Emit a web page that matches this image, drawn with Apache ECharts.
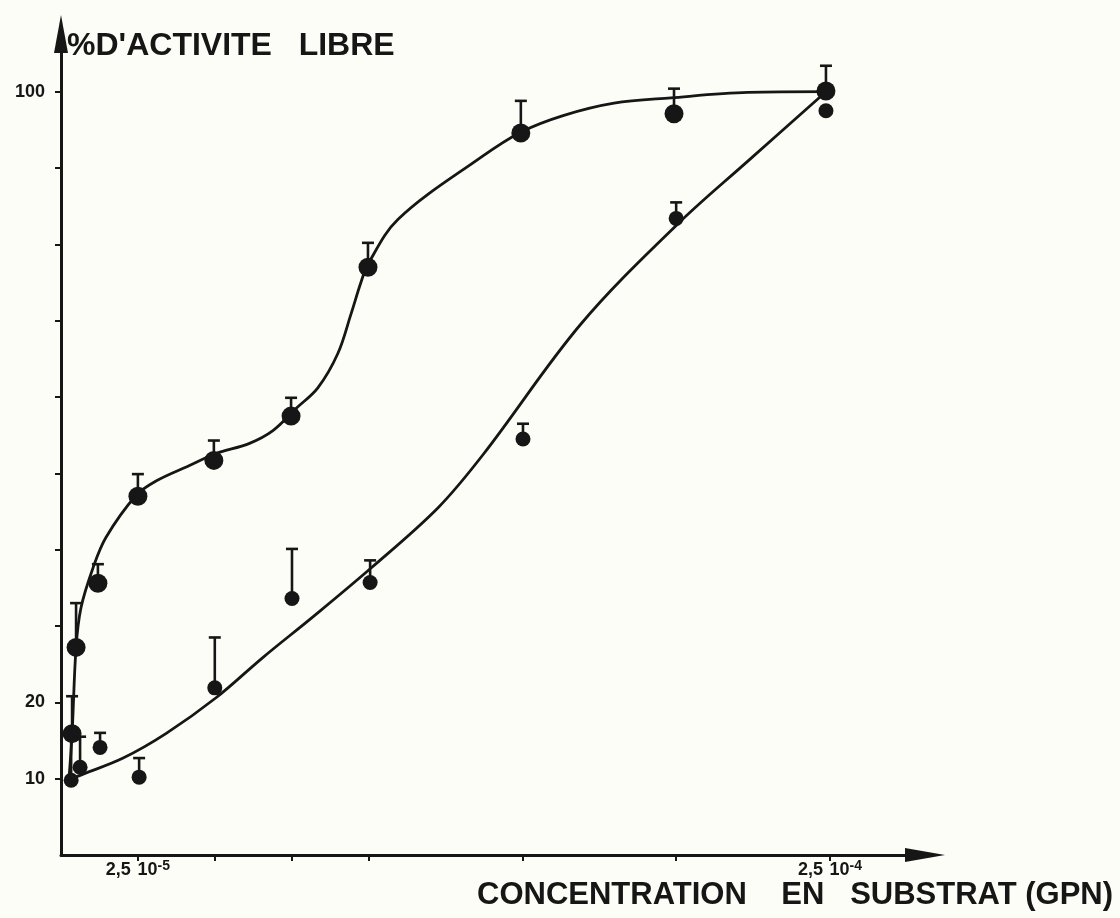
<!DOCTYPE html>
<html>
<head>
<meta charset="utf-8">
<title>% D'ACTIVITE LIBRE</title>
<script src="https://cdn.jsdelivr.net/npm/echarts@6/dist/echarts.min.js"></script>
<style>
    html, body { margin: 0; padding: 0; background: #fdfdf7; }
    #chartDiv { width: 1120px; height: 918px; }
</style>
</head>
<body>
<div id="chartDiv"></div>
<script>
// concentration in units of 10^-5 (GPN), activity in %

// traced fitted curves
var upperCurve = [[0.26, 10.0], [0.36, 15.9], [0.49, 27.2], [0.65, 32.4], [1.04, 37.6], [1.46, 41.6],
    [2.44, 47.1], [3.09, 49.0], [4.16, 51.0], [5.04, 52.6], [6.11, 53.9], [6.89, 55.6], [7.64, 58.5],
    [8.35, 61.2], [9.0, 65.7], [9.43, 70.9], [9.75, 75.0], [9.98, 77.4], [10.96, 83.3], [13.65, 91.4],
    [14.95, 94.7], [16.35, 96.9], [17.98, 98.5], [19.83, 99.2], [22.33, 99.9], [24.87, 100.0]];
var lowerCurve = [[0.33, 10.0], [0.72, 10.6], [2.02, 12.7], [3.41, 15.9], [5.04, 20.6], [6.57, 25.9],
    [8.19, 31.2], [10.08, 37.6], [12.26, 45.5], [13.75, 52.6], [16.91, 69.6], [20.06, 82.7],
    [22.33, 90.9], [24.87, 100.0]];

// measured points and top of their error bars
var upperX = [0.36, 0.49, 1.2, 2.5, 4.97, 7.48, 9.98, 14.95, 19.93, 24.87];
var upperY = [15.9, 27.2, 35.6, 47.0, 51.7, 57.5, 77.0, 94.6, 97.1, 100.1];
var upperErr = [20.8, 33.0, 38.1, 49.9, 54.3, 59.9, 80.2, 98.8, 100.4, 103.4];

var lowerX = [0.33, 0.62, 1.27, 2.54, 5.0, 7.51, 10.05, 15.02, 20.0, 24.87];
var lowerY = [9.8, 11.5, 14.1, 10.2, 21.9, 33.6, 35.7, 54.5, 83.4, 97.5];
var lowerErr = [15.5, 15.5, 16.0, 12.7, 28.5, 40.1, 38.6, 56.5, 85.5, null];

var xTickValues = [2.5, 5, 7.5, 10, 15, 20, 25];
var xLabelValues = [2.5, 25];
var xLabelMantissa = ['2,5', '2,5'];
var xLabelExponent = ['-5', '-4'];
var yTickValues = [10, 20, 30, 40, 50, 60, 70, 80, 90, 100];
var yLabelValues = [10, 20, 100];

var INK = '#161616';
var FONT = 'Liberation Sans';

var chart = echarts.init(document.getElementById('chartDiv'));

function zip(xs, ys) {
    var out = [];
    for (var i = 0; i < xs.length; i++) {
        out.push([xs[i], ys[i]]);
    }
    return out;
}

var errorData = [];
for (var i = 0; i < upperX.length; i++) {
    errorData.push([upperX[i], upperY[i], upperErr[i]]);
}
for (var j = 0; j < lowerX.length; j++) {
    if (lowerErr[j] != null) {
        errorData.push([lowerX[j], lowerY[j], lowerErr[j]]);
    }
}

function renderErrorBar(params, api) {
    var p0 = api.coord([api.value(0), api.value(1)]);
    var p1 = api.coord([api.value(0), api.value(2)]);
    var style = { stroke: INK, lineWidth: 2.6 };
    return {
        type: 'group',
        children: [
            { type: 'line', shape: { x1: p0[0], y1: p0[1], x2: p1[0], y2: p1[1] }, style: style },
            { type: 'line', shape: { x1: p1[0] - 6, y1: p1[1], x2: p1[0] + 6, y2: p1[1] }, style: style }
        ]
    };
}

var option = {
    backgroundColor: '#fdfdf7',
    animation: false,
    title: [{
        text: "%D'ACTIVITE   LIBRE",
        left: 67,
        top: 30,
        padding: 0,
        textStyle: { fontFamily: FONT, fontSize: 32, fontWeight: 'bold', color: INK }
    }, {
        text: 'CONCENTRATION    EN   SUBSTRAT (GPN)',
        left: 477,
        top: 880,
        padding: 0,
        textStyle: { fontFamily: FONT, fontSize: 31, fontWeight: 'bold', color: INK }
    }],
    grid: { left: 61, right: 195, top: 34, bottom: 63 },
    xAxis: {
        type: 'value',
        min: 0,
        max: 28.09,
        splitLine: { show: false },
        axisLine: {
            show: true,
            symbol: ['none', 'triangle'],
            symbolSize: [14, 40],
            lineStyle: { color: INK, width: 3 }
        },
        axisTick: {
            show: true,
            customValues: xTickValues,
            length: 6,
            lineStyle: { color: INK, width: 2 }
        },
        axisLabel: {
            customValues: xLabelValues,
            margin: 4,
            formatter: function (v) {
                var k = xLabelValues.indexOf(v);
                if (k < 0) return '';
                return '{m|' + xLabelMantissa[k] + '}  {m|10}{s|' + xLabelExponent[k] + '}';
            },
            rich: {
                m: { fontFamily: FONT, fontSize: 18, fontWeight: 'bold', color: INK, lineHeight: 22 },
                s: { fontFamily: FONT, fontSize: 14, fontWeight: 'bold', color: INK, verticalAlign: 'top', lineHeight: 14 }
            }
        }
    },
    yAxis: {
        type: 'value',
        min: 0,
        max: 107.56,
        splitLine: { show: false },
        axisLine: {
            show: true,
            symbol: ['none', 'triangle'],
            symbolSize: [14, 38],
            lineStyle: { color: INK, width: 3 }
        },
        axisTick: {
            show: true,
            customValues: yTickValues,
            length: 6,
            lineStyle: { color: INK, width: 2 }
        },
        axisLabel: {
            customValues: yLabelValues,
            margin: 16,
            fontFamily: FONT,
            fontSize: 18,
            fontWeight: 'bold',
            color: INK
        }
    },
    series: [{
        type: 'line',
        data: upperCurve,
        smooth: 0.35,
        symbol: 'none',
        lineStyle: { color: INK, width: 2.8 },
        z: 2
    }, {
        type: 'line',
        data: lowerCurve,
        smooth: 0.35,
        symbol: 'none',
        lineStyle: { color: INK, width: 2.8 },
        z: 2
    }, {
        type: 'custom',
        renderItem: renderErrorBar,
        data: errorData,
        encode: { x: 0, y: [1, 2] },
        z: 3
    }, {
        type: 'scatter',
        data: zip(lowerX, lowerY),
        symbolSize: 15,
        itemStyle: { color: INK, opacity: 1 },
        z: 4
    }, {
        type: 'scatter',
        data: zip(upperX, upperY),
        symbolSize: 19,
        itemStyle: { color: INK, opacity: 1 },
        z: 5
    }]
};

chart.setOption(option);
</script>
</body>
</html>
